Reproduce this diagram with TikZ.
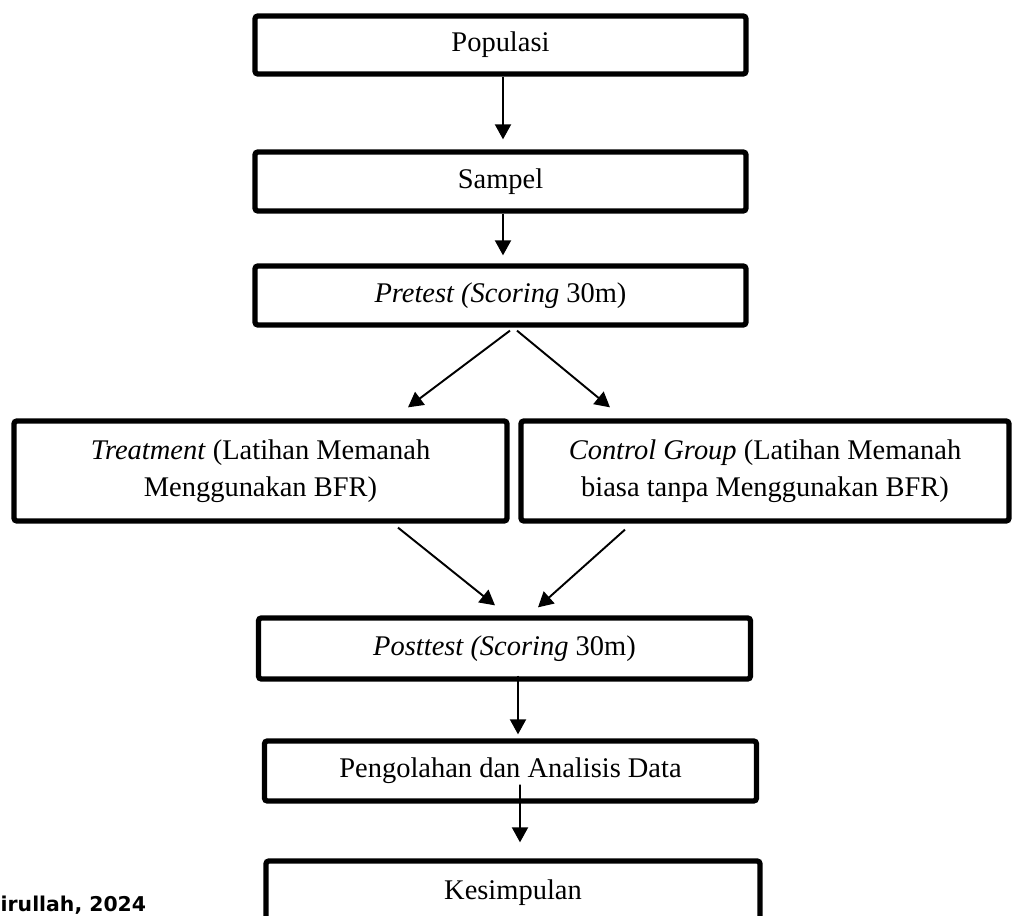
\documentclass[tikz,border=0pt]{standalone}
\usepackage{fontspec}
\setmainfont{Liberation Serif}
\newfontfamily\srcfont{DejaVu Sans}
\usetikzlibrary{arrows.meta}
\tikzset{
  kotak/.style={draw, line width=1.5pt, rounded corners=0.8pt, align=center, inner sep=0pt,
    minimum width=4.92cm, font=\fontsize{8.1}{10.6}\selectfont},
  panah/.style={-{Triangle[length=0.15cm,width=0.16cm]}, line width=0.55pt},
}
\begin{document}
\begin{tikzpicture}
\useasboundingbox (0,0) rectangle (10.12,-9.16);
\clip (0,0) rectangle (10.12,-9.16);
\node[kotak, minimum width=4.91cm, minimum height=0.58cm] (pop) at (5.005,-0.45) {Populasi};
\node[kotak, minimum width=4.91cm, minimum height=0.59cm] (samp) at (5.005,-1.815) {Sampel};
\node[kotak, minimum width=4.91cm, minimum height=0.59cm] (pre) at (5.005,-2.955) {\textit{Pretest (Scoring} 30m)};
\node[kotak, minimum width=4.93cm, minimum height=1.0cm] (treat) at (2.605,-4.71)
  {\textit{Treatment} (Latihan Memanah\\Menggunakan BFR)};
\node[kotak, minimum width=4.88cm, minimum height=1.0cm] (ctrl) at (7.65,-4.71)
  {\textit{Control Group} (Latihan Memanah\\biasa tanpa Menggunakan BFR)};
\node[kotak, minimum height=0.61cm] (post) at (5.045,-6.485) {\textit{Posttest (Scoring} 30m)};
\node[kotak, minimum height=0.60cm] (olah) at (5.105,-7.71) {Pengolahan dan Analisis Data};
\node[kotak, minimum width=4.94cm, minimum height=0.64cm] (simp) at (5.13,-8.93) {Kesimpulan};
\node[anchor=base west, inner sep=0pt, font=\srcfont\bfseries\fontsize{5.8}{7}\selectfont] (src) at (0,-9.12) {irullah, 2024};

\draw[panah] ([xshift=0.025cm]pop.south) -- ([xshift=0.025cm,yshift=0.1cm]samp.north);
\draw[panah] ([xshift=0.025cm]samp.south) -- ([xshift=0.025cm,yshift=0.08cm]pre.north);
\draw[panah] ([xshift=0.095cm,yshift=-0.03cm]pre.south) -- ([xshift=1.475cm,yshift=0.11cm]treat.north);
\draw[panah] ([xshift=0.165cm,yshift=-0.03cm]pre.south) -- ([xshift=-1.55cm,yshift=0.11cm]ctrl.north);
\draw[panah] ([xshift=1.375cm,yshift=-0.04cm]treat.south) -- ([xshift=-0.095cm,yshift=0.1cm]post.north);
\draw[panah] ([xshift=-1.4cm,yshift=-0.06cm]ctrl.south) -- ([xshift=0.335cm,yshift=0.08cm]post.north);
\draw[panah] ([xshift=0.135cm,yshift=0.06cm]post.south) -- ([xshift=0.075cm,yshift=0.04cm]olah.north);
\draw[panah] ([xshift=0.095cm,yshift=0.19cm]olah.south) -- ([xshift=0.07cm,yshift=0.16cm]simp.north);
\end{tikzpicture}
\end{document}
